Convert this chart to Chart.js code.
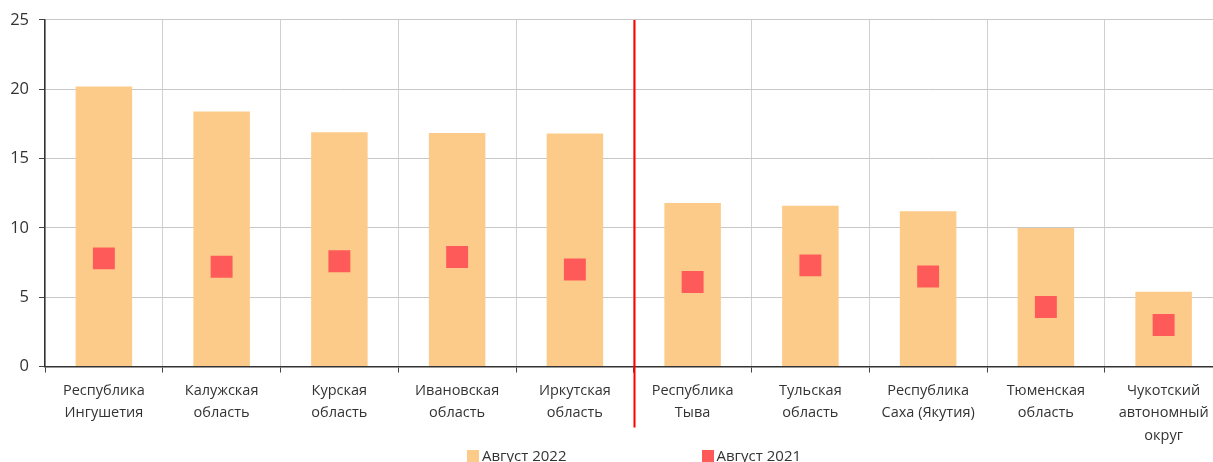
<!DOCTYPE html>
<html>
<head>
<meta charset="utf-8">
<script src="https://cdn.jsdelivr.net/npm/chart.js@4/dist/chart.umd.min.js"></script>
<style>
  html, body { margin: 0; padding: 0; background: #fff; overflow: hidden; }
  #wrap { position: relative; width: 1238px; height: 462px; }
  #legend { position: absolute; left: 45px; top: 445px; width: 1178px; display: flex; justify-content: center; gap: 135px;
    font-family: "Open Sans", sans-serif; font-size: 15px; color: #333; }
  #legend span.item { display: flex; align-items: center; }
  #legend i { display: inline-block; width: 12px; height: 12px; margin-right: 3px; margin-top: 2px; }
</style>
</head>
<body>
<div id="wrap">
  <canvas id="regionChart" width="1238" height="462"></canvas>
  <div id="legend"></div>
</div>
<script>
var regions = [
  ["Республика", "Ингушетия"],
  ["Калужская", "область"],
  ["Курская", "область"],
  ["Ивановская", "область"],
  ["Иркутская", "область"],
  ["Республика", "Тыва"],
  ["Тульская", "область"],
  ["Республика", "Саха (Якутия)"],
  ["Тюменская", "область"],
  ["Чукотский", "автономный", "округ"]
];
var aug2022 = [20.2, 18.4, 16.9, 16.85, 16.8, 11.8, 11.6, 11.2, 10.0, 5.4];
var aug2021 = [7.8, 7.2, 7.6, 7.9, 7.0, 6.1, 7.3, 6.5, 4.3, 3.0];
var seriesNames = ["Август 2022", "Август 2021"];
var seriesColors = ["#fdcb89", "#ff5a5a"];
var yTicks = [0, 5, 10, 15, 20, 25];

// red separator between first five and last five regions
var separatorLine = {
  id: "separatorLine",
  afterDatasetsDraw: function(chart) {
    var xs = chart.scales.x;
    var x = Math.round((xs.getPixelForValue(4) + xs.getPixelForValue(5)) / 2) + 0.5;
    var ctx = chart.ctx;
    ctx.save();
    ctx.strokeStyle = "#ff0000";
    ctx.lineWidth = 2;
    ctx.beginPath();
    ctx.moveTo(x, chart.chartArea.top);
    ctx.lineTo(x, chart.chartArea.bottom + 61);
    ctx.stroke();
    ctx.restore();
  }
};

var ctx = document.getElementById("regionChart");
var chart = new Chart(ctx, {
  type: "bar",
  data: {
    labels: regions,
    datasets: [
      {
        label: seriesNames[0],
        data: aug2022,
        backgroundColor: seriesColors[0],
        barPercentage: 0.48,
        categoryPercentage: 1,
        order: 2
      },
      {
        type: "line",
        label: seriesNames[1],
        data: aug2021,
        showLine: false,
        pointStyle: "rect",
        pointRadius: 15.5,
        pointHoverRadius: 15.5,
        pointBackgroundColor: seriesColors[1],
        pointBorderWidth: 0,
        borderColor: seriesColors[1],
        order: 1
      }
    ]
  },
  options: {
    responsive: false,
    animation: false,
    layout: { padding: { top: 10, right: 2, bottom: 8, left: 0 } },
    plugins: { legend: { display: false }, tooltip: { enabled: false } },
    scales: {
      x: {
        grid: { color: "#d0d0d0", tickColor: "#444", tickLength: 6, offset: true },
        border: { color: "#333", width: 1.5 },
        ticks: { color: "#333", font: { family: "Open Sans", size: 14.5, lineHeight: 1.55 }, padding: 7, maxRotation: 0, autoSkip: false }
      },
      y: {
        min: 0,
        max: 25,
        afterBuildTicks: function(scale) { scale.ticks = yTicks.map(function(v) { return { value: v }; }); },
        afterFit: function(scale) { scale.width = 45; },
        grid: { color: "#c8c8c8", tickColor: "#444", tickLength: 6 },
        border: { color: "#333", width: 1.5 },
        ticks: { color: "#333", font: { family: "Open Sans", size: 16.5 }, padding: 10 }
      }
    }
  },
  plugins: [separatorLine]
});

var legend = document.getElementById("legend");
seriesNames.forEach(function(name, i) {
  legend.innerHTML += '<span class="item"><i style="background:' + seriesColors[i] + '"></i>' + name + '</span>';
});
</script>
</body>
</html>
